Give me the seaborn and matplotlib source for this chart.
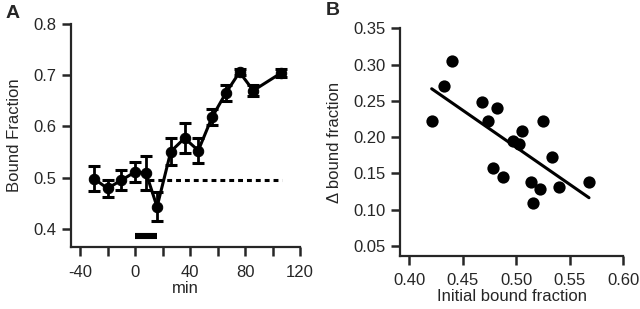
import matplotlib
matplotlib.use("Agg")
import matplotlib.pyplot as plt
import seaborn as sns
import numpy as np
import pandas as pd

# ---- Panel A data ----
time_min = [-30, -20, -10, 0, 8, 16, 26, 36, 46, 56, 66, 76, 86, 106]
bound_frac = [0.498, 0.479, 0.495, 0.511, 0.509, 0.443, 0.551, 0.577, 0.553,
              0.618, 0.665, 0.706, 0.670, 0.704]
bound_err = [0.024, 0.017, 0.019, 0.020, 0.033, 0.028, 0.027, 0.029, 0.025,
             0.016, 0.015, 0.006, 0.010, 0.008]
baseline_x = [10, 107]
baseline_y = [0.495, 0.495]
stim_x = [0, 16]
stim_y = [0.387, 0.387]
a_xticks = [-40, 0, 40, 80, 120]
a_yticks = [0.4, 0.5, 0.6, 0.7, 0.8]

# ---- Panel B data ----
init_bound = [0.4209, 0.4327, 0.4402, 0.4682, 0.4822, 0.4738, 0.5056, 0.5246,
              0.4972, 0.5028, 0.5331, 0.4785, 0.4873, 0.5135, 0.5221, 0.5402,
              0.5159, 0.5679]
delta_bound = [0.222, 0.270, 0.305, 0.248, 0.2395, 0.222, 0.2087, 0.2216,
               0.1949, 0.1904, 0.1729, 0.1569, 0.1453, 0.1376, 0.1288, 0.1307,
               0.1087, 0.1376]
b_xticks = [0.40, 0.45, 0.50, 0.55, 0.60]
b_yticks = [0.05, 0.10, 0.15, 0.20, 0.25, 0.30, 0.35]

sns.set_style("ticks")
plt.rcParams['font.family'] = ['Liberation Sans', 'DejaVu Sans']
plt.rcParams['axes.linewidth'] = 1.6
plt.rcParams['axes.unicode_minus'] = False

fig = plt.figure(figsize=(6.4, 3.09), dpi=100)
axA = fig.add_axes([0.1105, 0.1997, 0.3583, 0.7226])
axB = fig.add_axes([0.625, 0.1725, 0.349, 0.736])

dfA = pd.DataFrame({"min": time_min, "frac": bound_frac, "err": bound_err})
axA.errorbar(dfA["min"], dfA["frac"], yerr=dfA["err"], fmt="none",
             ecolor="black", elinewidth=2.0, capsize=4.6, capthick=2.2, zorder=3)
sns.lineplot(data=dfA, x="min", y="frac", ax=axA, color="black", lw=2.2,
             marker="o", markersize=7.5, markeredgecolor="black",
             markerfacecolor="black", zorder=4)
sns.lineplot(x=baseline_x, y=baseline_y, ax=axA, color="black", lw=2.2,
             dashes=False, zorder=2)
axA.lines[-1].set_dashes([1.6, 1.3])
sns.lineplot(x=stim_x, y=stim_y, ax=axA, color="black", lw=4.4, zorder=2)
axA.lines[-1].set_solid_capstyle("butt")

axA.set_xlim(-46.8, 120)
axA.set_ylim(0.364, 0.8)
axA.set_xticks(a_xticks)
axA.set_xticks([-20, 20, 60, 100], minor=True)
axA.set_yticks(a_yticks)
axA.set_yticklabels([f"{v:.1f}" for v in a_yticks])
axA.tick_params(axis="both", which="both", direction="out", length=6.5, width=1.8,
                labelsize=12, pad=4)
axA.tick_params(axis="x", pad=6)
axA.set_xlabel("min", fontsize=12, labelpad=1)
axA.set_ylabel("Bound Fraction", fontsize=12, labelpad=8)
for s in ["top", "right"]:
    axA.spines[s].set_visible(False)

dfB = pd.DataFrame({"init": init_bound, "delta": delta_bound})
sns.regplot(data=dfB, x="init", y="delta", ax=axB, ci=None, color="black",
            scatter_kws={"s": 78, "linewidths": 0, "alpha": 1},
            line_kws={"lw": 2.2})
axB.set_xlim(0.3913, 0.60)
axB.set_ylim(0.0366, 0.35)
axB.set_xticks(b_xticks)
axB.set_xticklabels([f"{v:.2f}" for v in b_xticks])
axB.set_yticks(b_yticks)
axB.set_yticklabels([f"{v:.2f}" for v in b_yticks])
axB.tick_params(axis="both", direction="out", length=6.5, width=1.8,
                labelsize=12, pad=4)
axB.tick_params(axis="x", pad=6)
axB.set_xlabel("Initial bound fraction", fontsize=12, labelpad=1)
axB.set_ylabel("Δ bound fraction", fontsize=12, labelpad=8)
for s in ["top", "right"]:
    axB.spines[s].set_visible(False)

fig.text(0.008, 0.985, "A", fontsize=14, fontweight="bold", va="top", ha="left")
fig.text(0.509, 0.992, "B", fontsize=14, fontweight="bold", va="top", ha="left")

fig.savefig("out.png", dpi=100)
